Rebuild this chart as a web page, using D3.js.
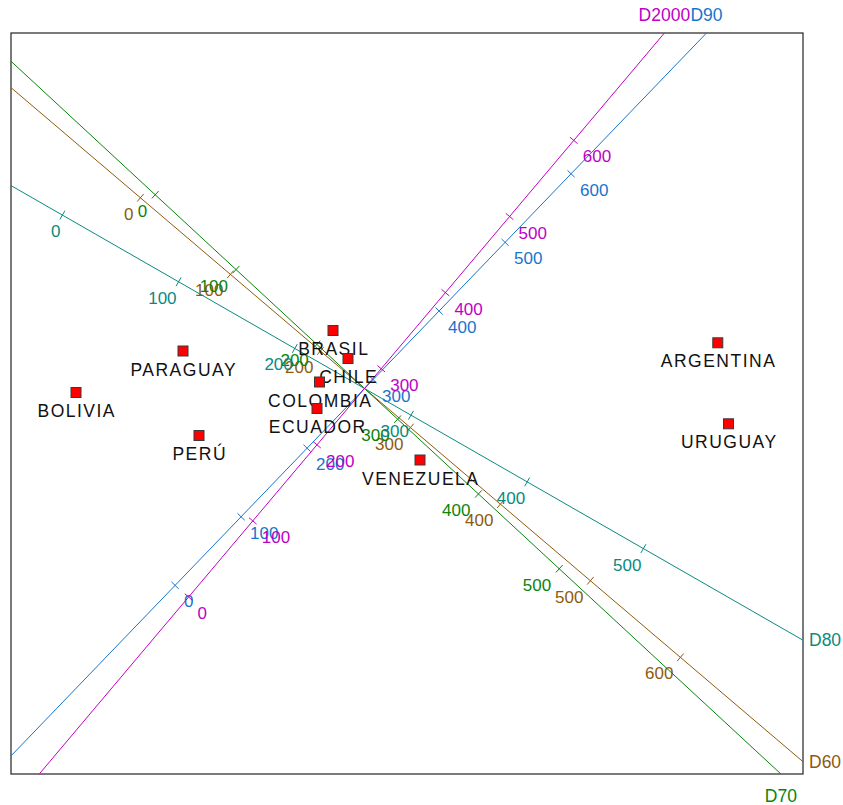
<!DOCTYPE html>
<html>
<head>
<meta charset="utf-8">
<script src="https://cdn.jsdelivr.net/npm/d3@7"></script>
<style>
  html, body { margin: 0; padding: 0; background: #fff; }
  svg { display: block; font-family: "Liberation Sans", Arial, sans-serif; }
</style>
</head>
<body>
<svg id="chart" width="843" height="805"></svg>
<script>
// Country scores on the first two biplot dimensions
const countries = ["BRASIL", "CHILE", "COLOMBIA", "ECUADOR", "PARAGUAY", "BOLIVIA", "PERÚ", "VENEZUELA", "ARGENTINA", "URUGUAY"];
const scoreX = [-0.315, -0.165, -0.45, -0.475, -1.815, -2.885, -1.655, 0.555, 3.533, 3.64];
const scoreY = [0.58, 0.30, 0.065, -0.20, 0.375, -0.04, -0.47, -0.715, 0.457, -0.353];

// Calibrated variable axes: value at the centre and displacement per 100 units
const variables = ["D60", "D70", "D80", "D90", "D2000"];
const valueAtCentre = [249, 259, 260, 287, 274];
const stepX = [0.90, 0.808, 1.162, 0.66, 0.642];
const stepY = [-0.766, -0.748, -0.667, 0.686, 0.761];
const tickMax = [600, 500, 500, 600, 600];
const tickValues = [0, 100, 200, 300, 400, 500, 600];
const axisColors = ["#8E5A0C", "#0A840A", "#0A8A80", "#1874CD", "#C000C4"];

const svg = d3.select("#chart");
const box = { left: 11, right: 803, top: 33, bottom: 774 };

const x = d3.scaleLinear().domain([-3.535, 4.385]).range([box.left, box.right]);
const y = d3.scaleLinear().domain([-3.855, 3.555]).range([box.bottom, box.top]);

// frame
svg.append("rect")
  .attr("x", box.left).attr("y", box.top)
  .attr("width", box.right - box.left).attr("height", box.bottom - box.top)
  .attr("fill", "none").attr("stroke", "#333").attr("stroke-width", 1.3);

const ox = x(0), oy = y(0);

function exitT(dx, dy) {
  const ts = [];
  if (dx > 0) ts.push((box.right - ox) / dx);
  if (dx < 0) ts.push((box.left - ox) / dx);
  if (dy > 0) ts.push((box.bottom - oy) / dy);
  if (dy < 0) ts.push((box.top - oy) / dy);
  const t = d3.min(ts);
  const side = t === (box.right - ox) / dx ? (dx > 0 ? "right" : "left")
             : (dy > 0 ? "bottom" : "top");
  return { t, side };
}

const axesG = svg.append("g");

variables.forEach((name, i) => {
  const color = axisColors[i];
  const pos = v => [x((v - valueAtCentre[i]) / 100 * stepX[i]), y((v - valueAtCentre[i]) / 100 * stepY[i])];
  const p0 = pos(valueAtCentre[i]);
  const p1 = pos(valueAtCentre[i] + 100);
  const dx = p1[0] - p0[0], dy = p1[1] - p0[1];
  const len = Math.hypot(dx, dy);
  const ux = dx / len, uy = dy / len;
  const hi = exitT(ux, uy);
  const lo = exitT(-ux, -uy);
  const g = axesG.append("g");

  g.append("line")
    .attr("x1", ox - ux * lo.t).attr("y1", oy - uy * lo.t)
    .attr("x2", ox + ux * hi.t).attr("y2", oy + uy * hi.t)
    .attr("stroke", color).attr("stroke-width", 1);

  // normal pointing down the screen
  let nx = -uy, ny = ux;
  if (ny < 0) { nx = -nx; ny = -ny; }
  const ticks = tickValues.filter(v => v <= tickMax[i]);
  const half = 5;
  ticks.forEach(v => {
    const [tx, ty] = pos(v);
    g.append("line")
      .attr("x1", tx - nx * half).attr("y1", ty - ny * half)
      .attr("x2", tx + nx * half).attr("y2", ty + ny * half)
      .attr("stroke", color).attr("stroke-width", 1);
    const descending = uy > 0;
    g.append("text")
      .attr("x", descending ? tx + 33 * nx + 14.4 : tx + 9)
      .attr("y", ty + 22)
      .attr("text-anchor", descending ? "end" : "start")
      .attr("font-size", 17)
      .attr("fill", color)
      .text(v);
  });

  // variable name beyond the high end
  const ex = ox + ux * hi.t, ey = oy + uy * hi.t;
  const lab = g.append("text")
    .attr("font-size", 17.5)
    .attr("fill", color)
    .text(name);
  if (hi.side === "top") {
    lab.attr("x", ex).attr("y", box.top - 12).attr("text-anchor", "middle");
  } else if (hi.side === "bottom") {
    lab.attr("x", ex).attr("y", box.bottom + 28).attr("text-anchor", "middle");
  } else {
    lab.attr("x", box.right + 6).attr("y", ey + 6).attr("text-anchor", "start");
  }
});

// countries
const pts = svg.append("g");
countries.forEach((c, i) => {
  const cx = x(scoreX[i]), cy = y(scoreY[i]);
  pts.append("rect")
    .attr("x", cx - 5).attr("y", cy - 5)
    .attr("width", 10).attr("height", 10)
    .attr("fill", "#FF0000").attr("stroke", "#3a3a3a").attr("stroke-width", 1);
  pts.append("text")
    .attr("x", cx + 0.75).attr("y", cy + 24.5)
    .attr("text-anchor", "middle")
    .attr("font-size", 17.5)
    .attr("letter-spacing", 1.5)
    .attr("fill", "#111")
    .text(c);
});
</script>
</body>
</html>
